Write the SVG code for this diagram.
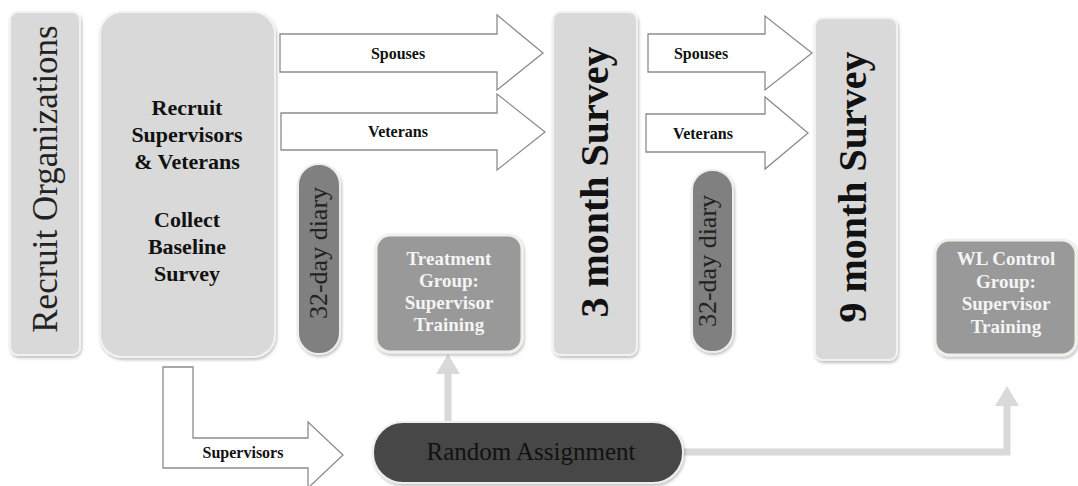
<svg xmlns="http://www.w3.org/2000/svg" width="1078" height="486" viewBox="0 0 1078 486">
<defs>
<filter id="sh" x="-20%" y="-20%" width="140%" height="140%">
<feDropShadow dx="1" dy="2" stdDeviation="1.5" flood-color="#000" flood-opacity="0.25"/>
</filter>
</defs>
<style>
.box{fill:#d9d9d9;stroke:#f2f2f2;stroke-width:2;filter:url(#sh)}
.pill{fill:#808080;stroke:#eeeeee;stroke-width:2;filter:url(#sh)}
.grp{fill:#999999;stroke:#f0f0ea;stroke-width:3;filter:url(#sh)}
.blk{fill:#ffffff;stroke:#8c8c8c;stroke-width:1.3}
.lbl{font-family:"Liberation Serif",serif;font-weight:bold;font-size:16px;fill:#111;text-anchor:middle}
.big{font-family:"Liberation Serif",serif;font-weight:bold;font-size:22px;fill:#111;text-anchor:middle}
.wht{font-family:"Liberation Serif",serif;font-weight:bold;font-size:19px;fill:#f4f4f4;text-anchor:middle}
.vt{font-family:"Liberation Serif",serif;text-anchor:middle}
.conn{fill:none;stroke:#d9d9d9;stroke-width:7}
</style>
<rect width="1078" height="486" fill="#ffffff"/>

<g id="connectors">
<path class="conn" d="M683,452 L1007,452 L1007,404"/>
<polygon points="995,406 1019,406 1007,386" fill="#d9d9d9"/>
<path class="conn" d="M448,421 L448,372"/>
<polygon points="436,374 460,374 448,354" fill="#d9d9d9"/>
<g id="arrow-spouses-1">
<polygon class="blk" points="280,34 497,34 497,15 543,53 497,90 497,72 280,72"/>
<text class="lbl" x="398" y="59">Spouses</text>
</g>
<g id="arrow-veterans-1">
<polygon class="blk" points="281,113 497,113 497,94 545,132 497,170 497,150 281,150"/>
<text class="lbl" x="398" y="137">Veterans</text>
</g>
<g id="arrow-spouses-2">
<polygon class="blk" points="648,34 765,34 765,16 812,53 765,90 765,72 648,72"/>
<text class="lbl" x="701" y="59">Spouses</text>
</g>
<g id="arrow-veterans-2">
<polygon class="blk" points="646,114 765,114 765,97 808,133 765,169 765,152 646,152"/>
<text class="lbl" x="703" y="139">Veterans</text>
</g>
<g id="arrow-supervisors">
<polygon class="blk" points="163,367 193,367 193,438 308,438 308,422 343,455 308,488 308,468 163,468"/>
<text class="lbl" x="243" y="458">Supervisors</text>
</g>
</g>

<g id="recruit-organizations">
<rect class="box" x="10" y="12" width="70" height="343" rx="8"/>
<text class="vt" transform="translate(57,179) rotate(-90)" font-size="35" fill="#222">Recruit Organizations</text>
</g>

<g id="recruit-supervisors">
<rect class="box" x="100" y="12" width="175" height="345" rx="22"/>
<text class="big" x="187" y="115">Recruit</text>
<text class="big" x="187" y="142">Supervisors</text>
<text class="big" x="187" y="169">&amp; Veterans</text>
<text class="big" x="187" y="227">Collect</text>
<text class="big" x="187" y="254">Baseline</text>
<text class="big" x="187" y="281">Survey</text>
</g>

<g id="diary-1">
<rect class="pill" x="298" y="164" width="42" height="190" rx="21"/>
<text class="vt" transform="translate(327,253) rotate(-90)" font-size="26" fill="#222">32-day diary</text>
</g>

<g id="treatment-group">
<rect class="grp" x="376" y="235" width="146" height="117" rx="14"/>
<text class="wht" x="449" y="265">Treatment</text>
<text class="wht" x="449" y="287">Group:</text>
<text class="wht" x="449" y="309">Supervisor</text>
<text class="wht" x="449" y="331">Training</text>
</g>

<g id="survey-3-month">
<rect class="box" x="553" y="12" width="84" height="343" rx="8"/>
<text class="vt" transform="translate(608,182) rotate(-90)" font-size="40" font-weight="bold" fill="#111">3 month Survey</text>
</g>

<g id="diary-2">
<rect class="pill" x="692" y="170" width="41" height="182" rx="20"/>
<text class="vt" transform="translate(716,261) rotate(-90)" font-size="26" fill="#222">32-day diary</text>
</g>

<g id="survey-9-month">
<rect class="box" x="815" y="18" width="82" height="342" rx="8"/>
<text class="vt" transform="translate(866,187) rotate(-90)" font-size="40" font-weight="bold" fill="#111">9 month Survey</text>
</g>

<g id="wl-control-group">
<rect class="grp" x="935" y="240" width="141" height="115" rx="14"/>
<text class="wht" x="1006" y="265">WL Control</text>
<text class="wht" x="1006" y="288">Group:</text>
<text class="wht" x="1006" y="310">Supervisor</text>
<text class="wht" x="1006" y="333">Training</text>
</g>

<g id="random-assignment">
<rect x="373" y="422" width="310" height="61" rx="30" fill="#474747" stroke="#eeeeee" stroke-width="2" filter="url(#sh)"/>
<text class="vt" x="531" y="460" font-size="25" fill="#111">Random Assignment</text>
</g>
</svg>
